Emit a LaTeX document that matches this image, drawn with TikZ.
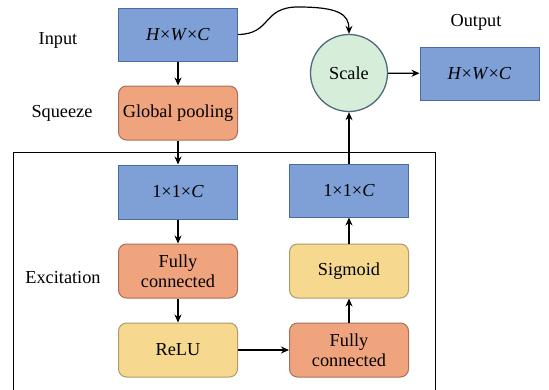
\documentclass[tikz,border=0pt]{standalone}
\usepackage{fontspec}
\setmainfont{Liberation Serif}
\usetikzlibrary{arrows.meta}
\definecolor{bfill}{HTML}{7FA0D6}
\definecolor{bdraw}{HTML}{4A6AA0}
\definecolor{ofill}{HTML}{EFA47D}
\definecolor{odraw}{HTML}{A8705A}
\definecolor{yfill}{HTML}{F6D88F}
\definecolor{ydraw}{HTML}{B09A6A}
\definecolor{gfill}{HTML}{D6EED9}
\definecolor{gdraw}{HTML}{4E6B7A}
\begin{document}
\begin{tikzpicture}[x=1pt,y=-1pt,
  every node/.style={font=\fontsize{18.3}{21}\selectfont, align=center, inner sep=0pt},
  bluebox/.style={draw=bdraw, fill=bfill, line width=1pt, minimum width=119pt, minimum height=53pt},
  orangebox/.style={draw=odraw, fill=ofill, line width=1pt, rounded corners=8pt, minimum width=119pt, minimum height=54pt},
  yellowbox/.style={draw=ydraw, fill=yfill, line width=1pt, rounded corners=8pt, minimum width=119pt, minimum height=54pt},
  arr/.style={-{Stealth[length=8pt,width=7pt]}, line width=1.2pt},
  lbl/.style={}]
\useasboundingbox (0,0) rectangle (549,389);
\draw[line width=1pt] (13,392) -- (13,152) -- (435,152) -- (435,392);
\node[bluebox] (in) at (178,34.5) {\textit{H}×\textit{W}×\textit{C}};
\node[orangebox] (gp) at (178,113) {Global pooling};
\node[circle, draw=gdraw, fill=gfill, line width=1.3pt, minimum size=77pt] (sc) at (349,73) {Scale};
\node[bluebox] (out) at (479.5,73.5) {\textit{H}×\textit{W}×\textit{C}};
\node[bluebox, minimum height=54pt] (l1) at (178,192) {1×1×\textit{C}};
\node[orangebox] (fc1) at (178,271) {Fully\\[-1pt]connected};
\node[yellowbox] (relu) at (178,350) {ReLU};
\node[bluebox] (r1) at (349,190.5) {1×1×\textit{C}};
\node[yellowbox] (sig) at (349,271) {Sigmoid};
\node[orangebox] (fc2) at (349,350) {Fully\\[-1pt]connected};
\node (tin) at (58,40) {Input};
\node (tsq) at (62,113) {Squeeze};
\node (tout) at (476,22) {Output};
\node (tex) at (63,278) {Excitation};
\draw[arr] (in) -- (gp);
\draw[arr] (gp) -- (l1);
\draw[arr] (l1) -- (fc1);
\draw[arr] (fc1) -- (relu);
\draw[arr] (relu) -- (fc2);
\draw[arr] (fc2) -- (sig);
\draw[arr] (sig) -- (r1);
\draw[arr] (r1) -- (sc);
\draw[arr] (sc) -- (out);
\draw[arr] (in.east) .. controls (272,34) and (262,7) .. (298,7) .. controls (338,7) and (349,14) .. (sc.north);
\end{tikzpicture}
\end{document}
